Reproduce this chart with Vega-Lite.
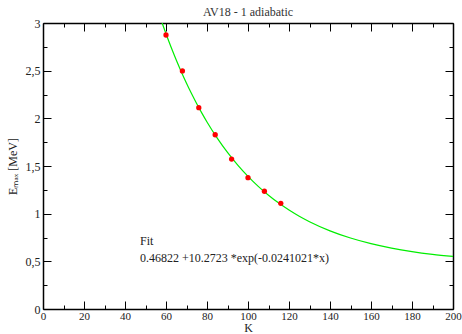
{
  "$schema": "https://vega.github.io/schema/vega-lite/v6.json",
  "width": 410,
  "height": 286,
  "autosize": "none",
  "padding": {"left": 43, "top": 23, "right": 9, "bottom": 25},
  "background": "white",
  "config": {
    "view": {"stroke": null},
    "font": "Liberation Serif",
    "axis": {
      "labelFont": "Liberation Serif",
      "titleFont": "Liberation Serif",
      "labelFontSize": 12,
      "titleFontSize": 12,
      "titleFontWeight": "normal",
      "labelColor": "#222",
      "titleColor": "#222",
      "domainColor": "#000",
      "domainWidth": 1.5,
      "tickColor": "#000",
      "tickWidth": 1,
      "grid": false
    }
  },
  "title": {"text": "AV18 - 1 adiabatic", "font": "Liberation Serif", "fontSize": 12, "fontWeight": "normal", "color": "#333", "offset": -2},
  "resolve": {"axis": {"x": "independent", "y": "independent"}},
  "layer": [
    {
      "data": {"values": [
        {"x": 58.11, "y": 3.0}, {"x": 60, "y": 2.887}, {"x": 62.5, "y": 2.7457}, {"x": 65, "y": 2.6125},
        {"x": 67.5, "y": 2.4871}, {"x": 70, "y": 2.3691}, {"x": 72.5, "y": 2.2579}, {"x": 75, "y": 2.1533},
        {"x": 77.5, "y": 2.0547}, {"x": 80, "y": 1.962}, {"x": 85, "y": 1.7924}, {"x": 90, "y": 1.642},
        {"x": 95, "y": 1.5088}, {"x": 100, "y": 1.3907}, {"x": 105, "y": 1.2859}, {"x": 110, "y": 1.1931},
        {"x": 115, "y": 1.1108}, {"x": 120, "y": 1.0378}, {"x": 125, "y": 0.9732}, {"x": 130, "y": 0.9158},
        {"x": 140, "y": 0.82}, {"x": 150, "y": 0.7446}, {"x": 160, "y": 0.6854}, {"x": 170, "y": 0.6389},
        {"x": 180, "y": 0.6024}, {"x": 190, "y": 0.5736}, {"x": 200, "y": 0.551}
      ]},
      "mark": {"type": "line", "color": "#00ee00", "strokeWidth": 1.2, "interpolate": "monotone", "clip": true},
      "encoding": {
        "x": {"field": "x", "type": "quantitative", "scale": {"domain": [0, 200], "nice": false},
          "axis": {"orient": "bottom", "title": "K", "titlePadding": -3, "labelFontSize": 11,
            "values": [0,10,20,30,40,50,60,70,80,90,100,110,120,130,140,150,160,170,180,190,200],
            "tickSize": {"condition": {"test": "datum.value % 20 === 0", "value": -8}, "value": -4},
            "labelExpr": "datum.value % 20 === 0 ? format(datum.value, 'd') : ''", "labelPadding": 9, "labelFlush": false, "labelOverlap": false}},
        "y": {"field": "y", "type": "quantitative", "scale": {"domain": [0, 3], "nice": false, "zero": true},
          "axis": {"orient": "left", "title": "Eₘₐₓ [MeV]", "titlePadding": 6,
            "values": [0,0.25,0.5,0.75,1,1.25,1.5,1.75,2,2.25,2.5,2.75,3],
            "tickSize": {"condition": {"test": "datum.value % 0.5 === 0", "value": -8}, "value": -4},
            "labelExpr": "datum.value % 0.5 === 0 ? replace(format(datum.value, '~g'), '.', ',') : ''", "labelPadding": 11, "labelFlush": false, "labelOverlap": false}}
      }
    },
    {
      "data": {"values": [
        {"x": 60, "y": 2.874}, {"x": 68, "y": 2.497}, {"x": 76, "y": 2.112}, {"x": 84, "y": 1.828},
        {"x": 92, "y": 1.573}, {"x": 100, "y": 1.377}, {"x": 108, "y": 1.235}, {"x": 116, "y": 1.109}
      ]},
      "mark": {"type": "point", "filled": true, "color": "#ff0000", "size": 28, "opacity": 1},
      "encoding": {
        "x": {"field": "x", "type": "quantitative",
          "axis": {"orient": "top", "title": null, "labels": false,
            "values": [0,10,20,30,40,50,60,70,80,90,100,110,120,130,140,150,160,170,180,190,200],
            "tickSize": {"condition": {"test": "datum.value % 20 === 0", "value": -8}, "value": -4}}},
        "y": {"field": "y", "type": "quantitative",
          "axis": {"orient": "right", "title": null, "labels": false,
            "values": [0,0.25,0.5,0.75,1,1.25,1.5,1.75,2,2.25,2.5,2.75,3],
            "tickSize": {"condition": {"test": "datum.value % 0.5 === 0", "value": -8}, "value": -4}}}
      }
    },
    {
      "data": {"values": [
        {"x": 47.3, "y": 0.716, "t": "Fit"},
        {"x": 47.3, "y": 0.535, "t": "0.46822 +10.2723 *exp(-0.0241021*x)"}
      ]},
      "mark": {"type": "text", "align": "left", "baseline": "middle", "font": "Liberation Serif", "fontSize": 12, "color": "#222"},
      "encoding": {
        "x": {"field": "x", "type": "quantitative", "axis": null},
        "y": {"field": "y", "type": "quantitative", "axis": null},
        "text": {"field": "t"}
      }
    }
  ]
}
